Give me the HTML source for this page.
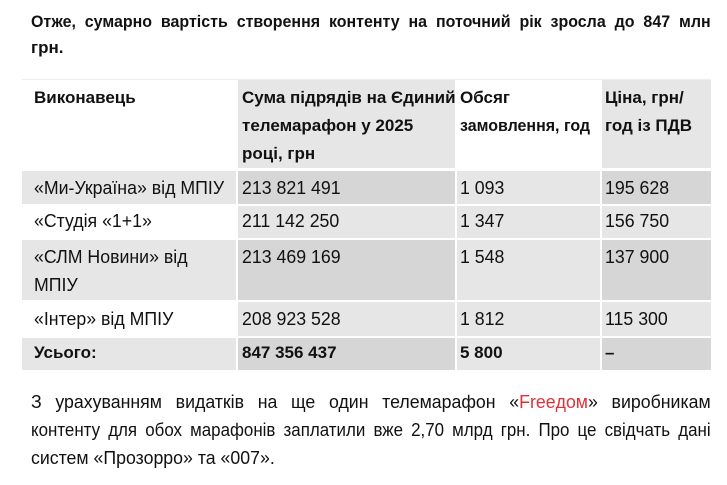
<!DOCTYPE html>
<html><head><meta charset="utf-8"><style>
body{margin:0;width:727px;height:485px;background:#fff;position:relative;overflow:hidden;font-family:"Liberation Sans",sans-serif;color:#111}
.t{position:absolute;white-space:nowrap;font-size:18px;line-height:20px;transform-origin:0 0;transform:scaleX(.985)}
.b{font-weight:bold;font-size:17px;transform:none}
.j{text-align:justify;text-align-last:justify;white-space:normal}
.c{position:absolute}
.w{background:#fff}.l{background:#e6e6e6}.d{background:#d6d6d6}
</style></head><body>
<div class="t b j" style="left:31px;top:12px;width:723px;transform:scaleX(.94)">Отже, сумарно вартість створення контенту на поточний рік зросла до 847 млн</div>
<div class="t b" style="left:31px;top:38px">грн.</div>

<div class="c" style="left:22px;top:79px;width:689px;height:1px;background:#eee"></div>
<div class="c w" style="left:22px;top:80px;width:214px;height:88px"></div>
<div class="c l" style="left:238px;top:80px;width:217px;height:88px"></div>
<div class="c w" style="left:457px;top:80px;width:143px;height:88px"></div>
<div class="c l" style="left:602px;top:80px;width:109px;height:88px"></div>
<div class="c l" style="left:22px;top:171px;width:214px;height:33px"></div>
<div class="c d" style="left:238px;top:171px;width:217px;height:33px"></div>
<div class="c l" style="left:457px;top:171px;width:143px;height:33px"></div>
<div class="c d" style="left:602px;top:171px;width:109px;height:33px"></div>
<div class="c w" style="left:22px;top:206px;width:214px;height:32px"></div>
<div class="c l" style="left:238px;top:206px;width:217px;height:32px"></div>
<div class="c l" style="left:457px;top:206px;width:143px;height:32px"></div>
<div class="c l" style="left:602px;top:206px;width:109px;height:32px"></div>
<div class="c l" style="left:22px;top:240px;width:214px;height:60px"></div>
<div class="c d" style="left:238px;top:240px;width:217px;height:60px"></div>
<div class="c l" style="left:457px;top:240px;width:143px;height:60px"></div>
<div class="c d" style="left:602px;top:240px;width:109px;height:60px"></div>
<div class="c w" style="left:22px;top:302px;width:214px;height:34px"></div>
<div class="c l" style="left:238px;top:302px;width:217px;height:34px"></div>
<div class="c l" style="left:457px;top:302px;width:143px;height:34px"></div>
<div class="c l" style="left:602px;top:302px;width:109px;height:34px"></div>
<div class="c l" style="left:22px;top:338px;width:214px;height:32px"></div>
<div class="c d" style="left:238px;top:338px;width:217px;height:32px"></div>
<div class="c l" style="left:457px;top:338px;width:143px;height:32px"></div>
<div class="c d" style="left:602px;top:338px;width:109px;height:32px"></div>

<div class="t b" style="left:34px;top:88px">Виконавець</div>
<div class="t b" style="left:242px;top:88px">Сума підрядів на Єдиний</div>
<div class="t b" style="left:242px;top:116px">телемарафон у 2025</div>
<div class="t b" style="left:242px;top:144px">році, грн</div>
<div class="t b" style="left:460px;top:88px">Обсяг</div>
<div class="t b" style="left:460px;top:116px;transform:scaleX(.94)">замовлення, год</div>
<div class="t b" style="left:605px;top:88px">Ціна, грн/</div>
<div class="t b" style="left:605px;top:116px">год із ПДВ</div>

<div class="t" style="left:34px;top:178px">«Ми-Україна» від МПІУ</div>
<div class="t" style="left:242px;top:178px">213 821 491</div>
<div class="t" style="left:460px;top:178px">1 093</div>
<div class="t" style="left:605px;top:178px">195 628</div>

<div class="t" style="left:34px;top:211px">«Студія «1+1»</div>
<div class="t" style="left:242px;top:211px">211 142 250</div>
<div class="t" style="left:460px;top:211px">1 347</div>
<div class="t" style="left:605px;top:211px">156 750</div>

<div class="t" style="left:34px;top:247px">«СЛМ Новини» від</div>
<div class="t" style="left:34px;top:275px">МПІУ</div>
<div class="t" style="left:242px;top:247px">213 469 169</div>
<div class="t" style="left:460px;top:247px">1 548</div>
<div class="t" style="left:605px;top:247px">137 900</div>

<div class="t" style="left:34px;top:309px">«Інтер» від МПІУ</div>
<div class="t" style="left:242px;top:309px">208 923 528</div>
<div class="t" style="left:460px;top:309px">1 812</div>
<div class="t" style="left:605px;top:309px">115 300</div>

<div class="t b" style="left:34px;top:343px">Усього:</div>
<div class="t b" style="left:242px;top:343px">847 356 437</div>
<div class="t b" style="left:460px;top:343px">5 800</div>
<div class="t b" style="left:605px;top:343px">–</div>

<div class="t j" style="left:31px;top:392px;width:690px">З урахуванням видатків на ще один телемарафон «<span style="color:#e0303a">Freeдом</span>» виробникам</div>
<div class="t j" style="left:31px;top:420px;width:723px;transform:scaleX(.94)">контенту для обох марафонів заплатили вже 2,70 млрд грн. Про це свідчать дані</div>
<div class="t" style="left:31px;top:448px">систем «Прозорро» та «007».</div>
</body></html>
